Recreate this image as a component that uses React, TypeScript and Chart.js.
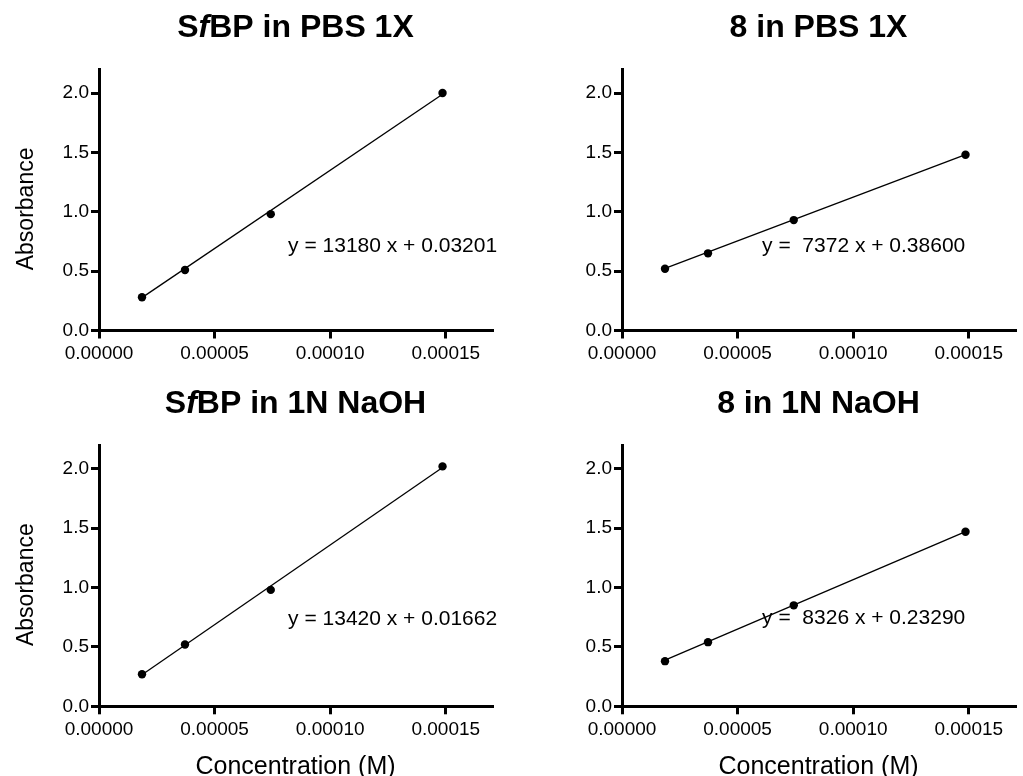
import React, { useEffect, useRef } from "react";
import { Chart, registerables } from "chart.js";

Chart.register(...registerables);

// ---------- data ----------
const concentration = [1.86e-5, 3.72e-5, 7.43e-5, 1.486e-4];
const sfbpPbs = [0.28, 0.51, 0.98, 2.0];
const cpd8Pbs = [0.52, 0.65, 0.93, 1.48];
const sfbpNaoh = [0.27, 0.52, 0.98, 2.02];
const cpd8Naoh = [0.38, 0.54, 0.85, 1.47];

// fitted line end values (at first and last concentration)
const fitX = [1.86e-5, 1.486e-4];
const sfbpPbsFit = [0.277, 1.99];
const cpd8PbsFit = [0.523, 1.481];
const sfbpNaohFit = [0.266, 2.011];
const cpd8NaohFit = [0.388, 1.47];

const xTickValues = [0, 0.00005, 0.0001, 0.00015];
const xTickLabels = ["0.00000", "0.00005", "0.00010", "0.00015"];
const yTickValues = [0, 0.5, 1.0, 1.5, 2.0];
const yTickLabels = ["0.0", "0.5", "1.0", "1.5", "2.0"];

const equations = [
  "y = 13180 x + 0.03201",
  "y =  7372 x + 0.38600",
  "y = 13420 x + 0.01662",
  "y =  8326 x + 0.23290",
];

const yAxisTitle = "Absorbance";
const xAxisTitle = "Concentration (M)";

// ---------- styling ----------
const FONT = '"Liberation Sans", Arial, Helvetica, sans-serif';
const X_MAX = 0.00017;
const Y_MAX = 2.2;

type TitlePart = { text: string; italic?: boolean };

const annotatePlugin = {
  id: "annotate",
  afterDraw(chart: any, _args: any, opts: any) {
    const { ctx, chartArea: ca, scales } = chart;
    ctx.save();
    ctx.fillStyle = "#000";
    ctx.textBaseline = "alphabetic";
    // title
    const parts: TitlePart[] = opts.title || [];
    const fontFor = (p: TitlePart) =>
      `${p.italic ? "italic " : ""}bold 32px ${FONT}`;
    let total = 0;
    const widths = parts.map((p) => {
      ctx.font = fontFor(p);
      const w = ctx.measureText(p.text).width;
      total += w;
      return w;
    });
    let x = (ca.left + ca.right) / 2 - total / 2;
    ctx.textAlign = "left";
    parts.forEach((p, i) => {
      ctx.font = fontFor(p);
      ctx.fillText(p.text, x, ca.top - 32.3);
      x += widths[i];
    });
    // equation
    if (opts.equation) {
      ctx.font = `21px ${FONT}`;
      ctx.textAlign = "left";
      ctx.fillText(
        opts.equation,
        scales.x.getPixelForValue(opts.eqX),
        scales.y.getPixelForValue(opts.eqY)
      );
    }
    // x title
    if (opts.xTitle) {
      ctx.font = `25px ${FONT}`;
      ctx.textAlign = "center";
      ctx.fillText(opts.xTitle, (ca.left + ca.right) / 2, ca.bottom + 67.7);
    }
    // y title
    if (opts.yTitle) {
      ctx.font = `23px ${FONT}`;
      ctx.textAlign = "center";
      ctx.translate(32.7, (ca.top + ca.bottom) / 2 + 9);
      ctx.rotate(-Math.PI / 2);
      ctx.fillText(opts.yTitle, 0, 0);
    }
    ctx.restore();
  },
};

type PanelProps = {
  left: number;
  top: number;
  width: number;
  height: number;
  padTop: number;
  padRight: number;
  yWidth: number;
  xHeight: number;
  title: TitlePart[];
  values: number[];
  fit: number[];
  equation: string;
  eqX: number;
  eqY: number;
  yTitle?: string;
  xTitle?: string;
};

function Panel(p: PanelProps) {
  const ref = useRef<HTMLCanvasElement | null>(null);
  useEffect(() => {
    if (!ref.current) return;
    const tickFont = { family: FONT, size: 19 };
    const chart = new Chart(ref.current, {
      type: "scatter",
      data: {
        datasets: [
          {
            data: fitX.map((x, i) => ({ x, y: p.fit[i] })),
            showLine: true,
            borderColor: "#000",
            borderWidth: 1.3,
            pointRadius: 0,
            fill: false,
          },
          {
            data: concentration.map((x, i) => ({ x, y: p.values[i] })),
            showLine: false,
            backgroundColor: "#000",
            borderColor: "#000",
            borderWidth: 0,
            pointRadius: 4.2,
          },
        ],
      } as any,
      options: {
        animation: false,
        responsive: false,
        layout: { padding: { left: 0, right: p.padRight, top: p.padTop, bottom: 0 } },
        plugins: {
          legend: { display: false },
          tooltip: { enabled: false },
          title: { display: false },
          annotate: {
            title: p.title,
            equation: p.equation,
            eqX: p.eqX,
            eqY: p.eqY,
            yTitle: p.yTitle,
            xTitle: p.xTitle,
          },
        } as any,
        scales: {
          x: {
            type: "linear",
            min: 0,
            max: X_MAX,
            afterBuildTicks: (s: any) => {
              s.ticks = xTickValues.map((v) => ({ value: v }));
            },
            afterFit: (s: any) => {
              s.height = p.xHeight;
              s.paddingLeft = 0;
              s.paddingRight = 0;
            },
            ticks: {
              font: tickFont,
              color: "#000",
              padding: 4,
              maxRotation: 0,
              autoSkip: false,
              callback: (_v: any, i: number) => xTickLabels[i],
            },
            grid: {
              drawOnChartArea: false,
              color: "#000",
              lineWidth: 3,
              tickLength: 8,
            },
            border: { display: true, color: "#000", width: 3 },
          },
          y: {
            type: "linear",
            min: 0,
            max: Y_MAX,
            afterBuildTicks: (s: any) => {
              s.ticks = yTickValues.map((v) => ({ value: v }));
            },
            afterFit: (s: any) => {
              s.width = p.yWidth;
              s.paddingTop = 0;
              s.paddingBottom = 0;
            },
            ticks: {
              font: tickFont,
              color: "#000",
              padding: 2,
              autoSkip: false,
              callback: (_v: any, i: number) => yTickLabels[i],
            },
            grid: {
              drawOnChartArea: false,
              color: "#000",
              lineWidth: 3,
              tickLength: 8,
            },
            border: { display: true, color: "#000", width: 3 },
          },
        },
      } as any,
      plugins: [annotatePlugin],
    });
    return () => chart.destroy();
  }, []);
  return (
    <canvas
      ref={ref}
      width={p.width}
      height={p.height}
      style={{
        position: "absolute",
        left: p.left,
        top: p.top,
        width: p.width,
        height: p.height,
      }}
    />
  );
}

export default function App() {
  const topCommon = { top: 0, height: 388, padTop: 69.3, xHeight: 57.5 };
  const botCommon = { top: 388, height: 388, padTop: 57, xHeight: 69.7 };
  const leftCommon = { left: 0, width: 511, padRight: 19, yWidth: 99 };
  const rightCommon = { left: 511, width: 512, padRight: 8, yWidth: 111 };
  return (
    <div
      style={{
        position: "absolute",
        left: 0,
        top: 0,
        width: 1023,
        height: 776,
        background: "#fff",
        overflow: "hidden",
      }}
    >
      <Panel
        {...topCommon}
        {...leftCommon}
        title={[{ text: "S" }, { text: "f", italic: true }, { text: "BP in PBS 1X" }]}
        values={sfbpPbs}
        fit={sfbpPbsFit}
        equation={equations[0]}
        eqX={8.18e-5}
        eqY={0.665}
        yTitle={yAxisTitle}
      />
      <Panel
        {...topCommon}
        {...rightCommon}
        title={[{ text: "8 in PBS 1X" }]}
        values={cpd8Pbs}
        fit={cpd8PbsFit}
        equation={equations[1]}
        eqX={6.06e-5}
        eqY={0.665}
      />
      <Panel
        {...botCommon}
        {...leftCommon}
        title={[{ text: "S" }, { text: "f", italic: true }, { text: "BP in 1N NaOH" }]}
        values={sfbpNaoh}
        fit={sfbpNaohFit}
        equation={equations[2]}
        eqX={8.18e-5}
        eqY={0.686}
        yTitle={yAxisTitle}
        xTitle={xAxisTitle}
      />
      <Panel
        {...botCommon}
        {...rightCommon}
        title={[{ text: "8 in 1N NaOH" }]}
        values={cpd8Naoh}
        fit={cpd8NaohFit}
        equation={equations[3]}
        eqX={6.06e-5}
        eqY={0.695}
        xTitle={xAxisTitle}
      />
    </div>
  );
}
